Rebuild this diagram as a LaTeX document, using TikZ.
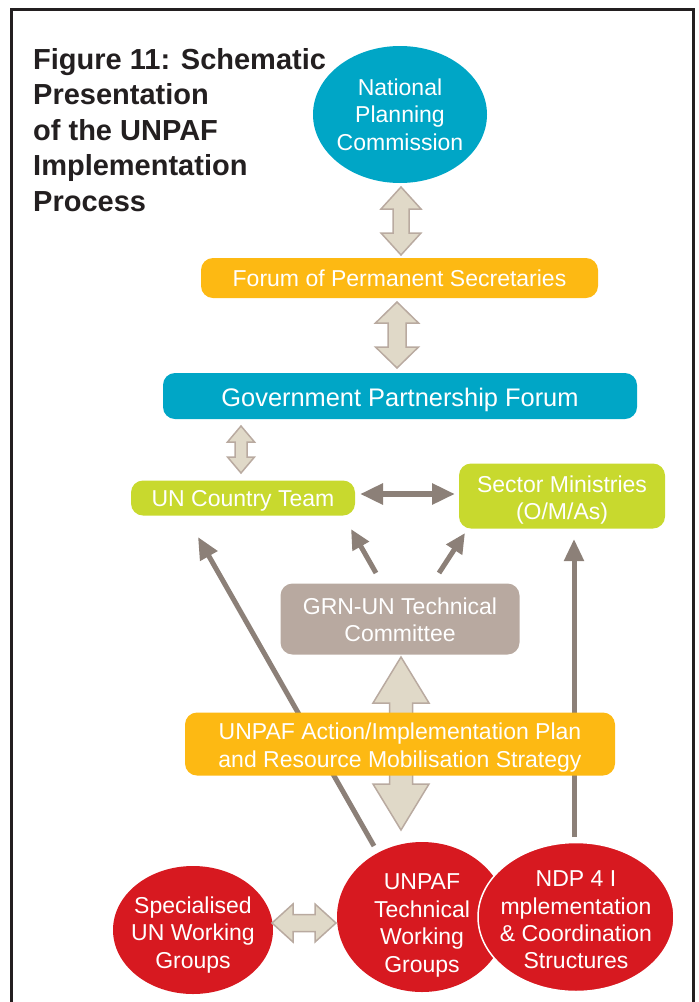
\documentclass[tikz,border=0pt]{standalone}
\usepackage{fontspec}
\setmainfont{Liberation Sans}
\usetikzlibrary{shapes.geometric,arrows.meta}
\definecolor{teal}{RGB}{0,166,198}
\definecolor{orng}{RGB}{253,185,19}
\definecolor{lime}{RGB}{200,217,46}
\definecolor{taupe}{RGB}{184,169,160}
\definecolor{redc}{RGB}{215,25,32}
\definecolor{beige}{RGB}{224,217,200}
\definecolor{beigeline}{RGB}{185,170,160}
\definecolor{darkarrow}{RGB}{140,128,120}
\definecolor{ink}{RGB}{35,31,32}
% shift a line of text down without changing its reported size
\newcommand{\dn}[2]{\raisebox{-#1}[\height][\depth]{#2}}
% same, but with zero reported width (so ellipses keep their set size)
\newcommand{\cl}[2]{\raisebox{-#1}[\height][\depth]{\makebox[0pt]{#2}}}
\newcommand{\vfat}[6]{% x, ytop, ybottom, head half width, shaft half width, head length
  \filldraw[fatarrow] (#1,#2) -- (#1+#4,#2+#6) -- (#1+#5,#2+#6) -- (#1+#5,#3-#6)
    -- (#1+#4,#3-#6) -- (#1,#3) -- (#1-#4,#3-#6) -- (#1-#5,#3-#6)
    -- (#1-#5,#2+#6) -- (#1-#4,#2+#6) -- cycle;}
\newcommand{\hfat}[6]{% y, xleft, xright, head half width, shaft half width, head length
  \filldraw[fatarrow] (#2,#1) -- (#2+#6,#1-#4) -- (#2+#6,#1-#5) -- (#3-#6,#1-#5)
    -- (#3-#6,#1-#4) -- (#3,#1) -- (#3-#6,#1+#4) -- (#3-#6,#1+#5)
    -- (#2+#6,#1+#5) -- (#2+#6,#1+#4) -- cycle;}
\begin{document}
\begin{tikzpicture}[x=1pt,y=-1pt,
  box/.style={rounded corners=12pt, inner sep=0pt, align=center, text=white,
    font=\fontsize{23}{27.3}\selectfont},
  circ/.style={ellipse, inner sep=0pt, align=center, text=white, fill=redc,
    font=\fontsize{23}{27.4}\selectfont},
  titleline/.style={anchor=base west, inner sep=0pt, text=ink,
    font=\fontsize{29}{35.5}\selectfont\bfseries},
  fatarrow/.style={fill=beige, draw=beigeline, line width=1.5pt, line join=miter},
  thinarrow/.style={draw=darkarrow, line width=5pt, -{Triangle[length=22pt,width=19pt]}},
  duoarrow/.style={draw=darkarrow, line width=6pt, {Triangle[length=23pt,width=20pt]}-{Triangle[length=23pt,width=20pt]}}
]
\useasboundingbox (0,0) rectangle (699,1002);
% frame
\draw[ink, line width=3pt] (11,1010) -- (11,9) -- (693,9) -- (693,1010);

% title
\node[titleline] (t1) at (33,69) {Figure 11: Schematic};
\node[titleline] (t2) at (33,104.5) {Presentation};
\node[titleline] (t3) at (33,140) {of the UNPAF};
\node[titleline] (t4) at (33,175.5) {Implementation};
\node[titleline] (t5) at (33,211) {Process};

% fat double arrows (behind boxes)
\vfat{401}{187}{255}{20}{8}{22}
\vfat{397}{302}{368}{21.5}{9}{21}
\vfat{241}{426}{473}{13.5}{6}{16}
\vfat{401}{657}{830}{28}{11.5}{46}

% long connectors (behind boxes)
\coordinate (lls) at (374,846);
\coordinate (lle) at (198,537);
\coordinate (rls) at (574,837);
\coordinate (rle) at (574,539);
\draw[thinarrow] (lls) -- (lle);
\draw[thinarrow] (rls) -- (rle);

% boxes
\node[ellipse, fill=teal, inner sep=0pt, minimum width=174pt, minimum height=137pt,
  align=center, text=white, font=\fontsize{23}{27.3}\selectfont] (npc) at (400,114.5)
  {\cl{0pt}{National}\\\cl{0pt}{Planning}\\\cl{0pt}{Commission}};
\node[box, fill=orng, minimum width=397pt, minimum height=40pt] (fps) at (399.5,278)
  {Forum of Permanent Secretaries};
\node[box, fill=teal, minimum width=474pt, minimum height=46pt,
  font=\fontsize{25.4}{30}\selectfont] (gpf) at (400,396)
  {\dn{3.5pt}{Government Partnership Forum}};
\node[box, fill=lime, minimum width=224pt, minimum height=35pt] (unct) at (243,498)
  {\dn{3pt}{UN Country Team}};
\node[box, fill=lime, minimum width=206pt, minimum height=65pt] (sm) at (562,496)
  {\dn{4pt}{Sector Ministries}\\\dn{4pt}{(O/M/As)}};
\node[box, fill=taupe, minimum width=239pt, minimum height=71pt] (grn) at (400,619)
  {\dn{1pt}{GRN-UN Technical}\\\dn{1pt}{Committee}};
\node[box, fill=orng, minimum width=430pt, minimum height=63pt] (act) at (400,744)
  {\dn{3.5pt}{UNPAF Action/Implementation Plan}\\\dn{3.5pt}{and Resource Mobilisation Strategy}};

% connectors between boxes
\coordinate (ha) at (360,494);
\coordinate (hb) at (455,494);
\draw[duoarrow] (ha) -- (hb);
\coordinate (g1s) at (376,573);
\coordinate (g1e) at (351,529);
\coordinate (g2s) at (439,573);
\coordinate (g2e) at (465,533);
\draw[thinarrow, -{Triangle[length=20pt,width=18pt]}] (g1s) -- (g1e);
\draw[thinarrow, -{Triangle[length=20pt,width=18pt]}] (g2s) -- (g2e);

% circles
\node[circ, minimum width=160pt, minimum height=128pt] (swg) at (193,930)
  {\cl{5pt}{Specialised}\\\cl{5pt}{UN Working}\\\cl{5pt}{Groups}};
\node[circ, minimum width=170pt, minimum height=150pt] (utwg) at (422,917)
  {\cl{8.5pt}{UNPAF}\\\cl{8.5pt}{Technical}\\\cl{8.5pt}{Working}\\\cl{8.5pt}{Groups}};
\node[circ, draw=white, line width=1.5pt, minimum width=196pt, minimum height=149pt] (ndp) at (576,917)
  {\cl{3pt}{NDP 4 I}\\\cl{3pt}{mplementation}\\\cl{3pt}{\& Coordination}\\\cl{3pt}{Structures}};

% horizontal fat double arrow between circles
\hfat{923}{272}{336}{19}{8.5}{21}
\end{tikzpicture}
\end{document}
